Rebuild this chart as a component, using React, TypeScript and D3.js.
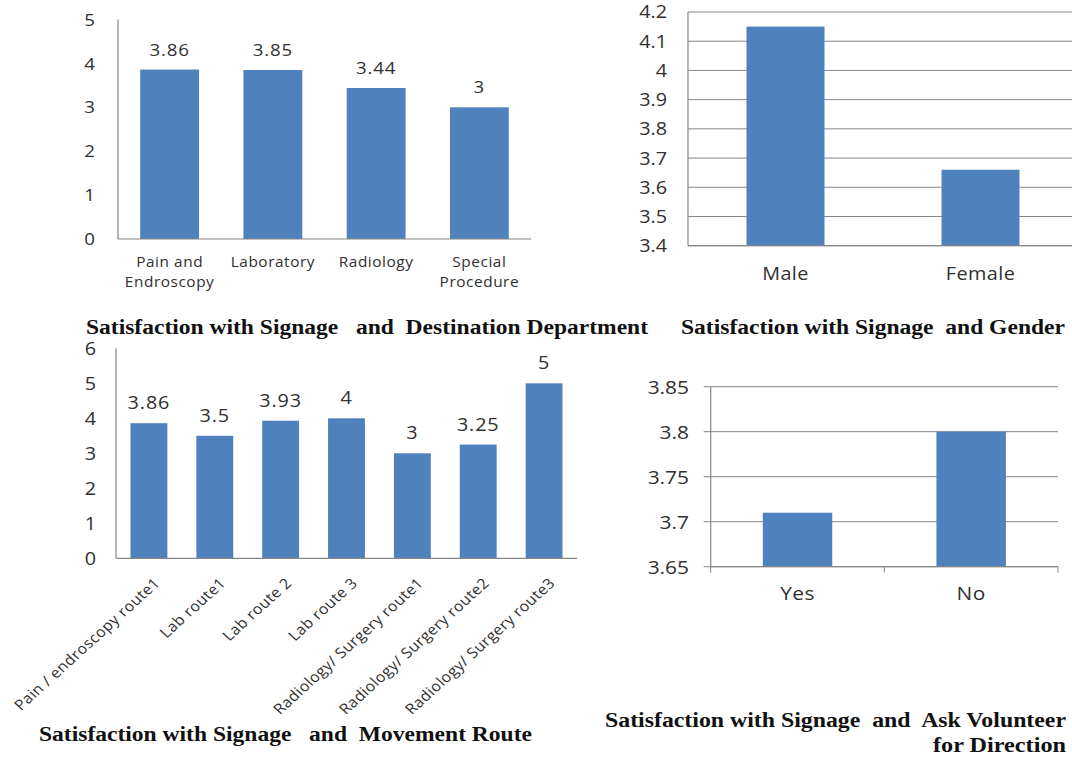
import React from "react";
import * as d3 from "d3";

// ---------- data ----------
const deptCategories = ["Pain and\nEndroscopy", "Laboratory", "Radiology", "Special\nProcedure"];
const deptValues = [3.86, 3.85, 3.44, 3];
const deptTicks = [0, 1, 2, 3, 4, 5];

const genderCategories = ["Male", "Female"];
const genderValues = [4.15, 3.66];
const genderTicks = [3.4, 3.5, 3.6, 3.7, 3.8, 3.9, 4.0, 4.1, 4.2];

const routeCategories = [
  "Pain / endroscopy route1",
  "Lab route1",
  "Lab route 2",
  "Lab route 3",
  "Radiology/ Surgery route1",
  "Radiology/ Surgery route2",
  "Radiology/ Surgery route3",
];
const routeValues = [3.86, 3.5, 3.93, 4, 3, 3.25, 5];
const routeTicks = [0, 1, 2, 3, 4, 5, 6];

const volunteerCategories = ["Yes", "No"];
const volunteerValues = [3.71, 3.8];
const volunteerTicks = [3.65, 3.7, 3.75, 3.8, 3.85];

const titleDept = "Satisfaction with Signage   and  Destination Department";
const titleGender = "Satisfaction with Signage  and Gender";
const titleRoute = "Satisfaction with Signage   and  Movement Route";
const titleVolunteer = ["Satisfaction with Signage  and  Ask Volunteer", "for Direction"];

// ---------- style ----------
const BAR = "#4F81BD";
const AXIS = "#868686";
const TEXT = "#303030";
const SANS = "'Open Sans', 'Noto Sans', sans-serif";
const SERIF = "'Liberation Serif', 'Times New Roman', serif";
const SX = 1.1; // horizontal stretch of the sans-serif labels

type Cfg = {
  categories: string[];
  values: number[];
  ticks: number[];
  domain: [number, number];
  left: number;
  right: number;
  top: number;
  bottom: number;
  pad: number;
  grid: boolean;
  gridRight: number;
  tickOut: number;
  xTicks: boolean;
  tickRight: number;
  tickFont: number;
  dataLabels: boolean;
  dataFont: number;
  catMode: "wrap" | "rotate";
  catY: number;
  catFont: number;
  catLine: number;
  catDx: number;
  catSpacing: number;
};

const fmt = (v: number) => String(+v.toFixed(2));

function SText({
  x,
  y,
  size,
  anchor,
  spacing = 0,
  rotate = 0,
  dy,
  children,
}: {
  x: number;
  y: number;
  size: number;
  anchor: string;
  spacing?: number;
  rotate?: number;
  dy?: string;
  children: React.ReactNode;
}) {
  return (
    <g transform={`translate(${x},${y}) scale(${SX},1)${rotate ? ` rotate(${rotate})` : ""}`}>
      <text
        x={0}
        y={0}
        dy={dy}
        textAnchor={anchor}
        fontFamily={SANS}
        fontSize={size}
        letterSpacing={spacing}
        fill={TEXT}
      >
        {children}
      </text>
    </g>
  );
}

function Panel({ cfg }: { cfg: Cfg }) {
  const x = d3
    .scaleBand<string>()
    .domain(cfg.categories)
    .range([cfg.left, cfg.right])
    .paddingInner(cfg.pad)
    .paddingOuter(cfg.pad / 2);
  const y = d3.scaleLinear().domain(cfg.domain).range([cfg.bottom, cfg.top]);
  const step = x.step();
  const y0 = y(cfg.domain[0]);
  return (
    <g>
      {cfg.grid &&
        cfg.ticks.map((t) => (
          <line
            key={"g" + t}
            x1={cfg.left - cfg.tickOut}
            x2={cfg.gridRight}
            y1={y(t)}
            y2={y(t)}
            stroke={AXIS}
            strokeWidth={1}
          />
        ))}
      {cfg.values.map((v, i) => (
        <rect
          key={"b" + i}
          x={x(cfg.categories[i])}
          y={y(v)}
          width={x.bandwidth()}
          height={y0 - y(v)}
          fill={BAR}
        />
      ))}
      <line x1={cfg.left} x2={cfg.left} y1={y(cfg.domain[1])} y2={y0} stroke={AXIS} strokeWidth={1.2} />
      <line x1={cfg.left} x2={cfg.grid ? cfg.gridRight : cfg.right} y1={y0} y2={y0} stroke={AXIS} strokeWidth={1.2} />
      {cfg.xTicks &&
        d3.range(cfg.categories.length + 1).map((i) => (
          <line
            key={"xt" + i}
            x1={cfg.left + i * step}
            x2={cfg.left + i * step}
            y1={y0}
            y2={y0 + 6}
            stroke={AXIS}
          />
        ))}
      {cfg.ticks.map((t) => (
        <SText key={"t" + t} x={cfg.tickRight} y={y(t)} dy="0.36em" anchor="end" size={cfg.tickFont}>
          {fmt(t)}
        </SText>
      ))}
      {cfg.dataLabels &&
        cfg.values.map((v, i) => (
          <SText
            key={"d" + i}
            x={(x(cfg.categories[i]) as number) + x.bandwidth() / 2}
            y={y(v) - 14}
            anchor="middle"
            size={cfg.dataFont}
            spacing={0.8}
          >
            {fmt(v)}
          </SText>
        ))}
      {cfg.categories.map((c, i) => {
        const cx = (x(c) as number) + x.bandwidth() / 2;
        if (cfg.catMode === "rotate") {
          return (
            <SText
              key={"c" + i}
              x={cx + cfg.catDx}
              y={cfg.catY}
              rotate={-45}
              anchor="end"
              size={cfg.catFont}
              spacing={cfg.catSpacing}
            >
              {c}
            </SText>
          );
        }
        return (
          <g key={"c" + i}>
            {c.split("\n").map((ln, j) => (
              <SText
                key={j}
                x={cx}
                y={cfg.catY + j * cfg.catLine}
                anchor="middle"
                size={cfg.catFont}
                spacing={cfg.catSpacing}
              >
                {ln}
              </SText>
            ))}
          </g>
        );
      })}
    </g>
  );
}

const deptCfg: Cfg = {
  categories: deptCategories,
  values: deptValues,
  ticks: deptTicks,
  domain: [0, 5],
  left: 118,
  right: 531,
  top: 19.5,
  bottom: 239,
  pad: 0.43,
  grid: false,
  gridRight: 531,
  tickOut: 0,
  xTicks: false,
  tickRight: 95,
  tickFont: 17,
  dataLabels: true,
  dataFont: 17,
  catMode: "wrap",
  catY: 267,
  catFont: 14,
  catLine: 20,
  catDx: 0,
  catSpacing: 0.5,
};

const genderCfg: Cfg = {
  categories: genderCategories,
  values: genderValues,
  ticks: genderTicks,
  domain: [3.4, 4.2],
  left: 688,
  right: 1078,
  top: 12,
  bottom: 245.7,
  pad: 0.6,
  grid: true,
  gridRight: 1072,
  tickOut: 0,
  xTicks: false,
  tickRight: 667,
  tickFont: 18,
  dataLabels: false,
  dataFont: 18,
  catMode: "wrap",
  catY: 280,
  catFont: 18,
  catLine: 20,
  catDx: 0,
  catSpacing: 0.4,
};

const routeCfg: Cfg = {
  categories: routeCategories,
  values: routeValues,
  ticks: routeTicks,
  domain: [0, 6],
  left: 116,
  right: 577,
  top: 348.3,
  bottom: 558.3,
  pad: 0.44,
  grid: false,
  gridRight: 577,
  tickOut: 0,
  xTicks: false,
  tickRight: 96,
  tickFont: 18,
  dataLabels: true,
  dataFont: 18,
  catMode: "rotate",
  catY: 584,
  catFont: 14.5,
  catLine: 0,
  catDx: 12,
  catSpacing: 0.4,
};

const volunteerCfg: Cfg = {
  categories: volunteerCategories,
  values: volunteerValues,
  ticks: volunteerTicks,
  domain: [3.65, 3.85],
  left: 710.7,
  right: 1058,
  top: 386.7,
  bottom: 566.7,
  pad: 0.6,
  grid: true,
  gridRight: 1058,
  tickOut: 7,
  xTicks: true,
  tickRight: 689,
  tickFont: 19,
  dataLabels: false,
  dataFont: 18,
  catMode: "wrap",
  catY: 600,
  catFont: 19,
  catLine: 20,
  catDx: 0,
  catSpacing: 0.4,
};

function Title({ text, x, y, len, anchor = "start" }: { text: string; x: number; y: number; len: number; anchor?: string }) {
  return (
    <text
      x={x}
      y={y}
      textAnchor={anchor}
      fontFamily={SERIF}
      fontWeight="bold"
      fontSize={20}
      fill="#111"
      textLength={len}
      lengthAdjust="spacingAndGlyphs"
      style={{ whiteSpace: "pre" }}
    >
      {text}
    </text>
  );
}

export default function App() {
  return (
    <svg
      width={1072}
      height={759}
      style={{ position: "absolute", left: 0, top: 0, display: "block", background: "#fff" }}
    >
      <rect x={0} y={0} width={1072} height={759} fill="#fff" />
      <Panel cfg={deptCfg} />
      <Panel cfg={genderCfg} />
      <Panel cfg={routeCfg} />
      <Panel cfg={volunteerCfg} />
      <Title text={titleDept} x={86} y={334} len={562} />
      <Title text={titleGender} x={681} y={334} len={384} />
      <Title text={titleRoute} x={39} y={741} len={493} />
      <Title text={titleVolunteer[0]} x={605} y={727} len={461} />
      <Title text={titleVolunteer[1]} x={933} y={752} len={133} />
    </svg>
  );
}
